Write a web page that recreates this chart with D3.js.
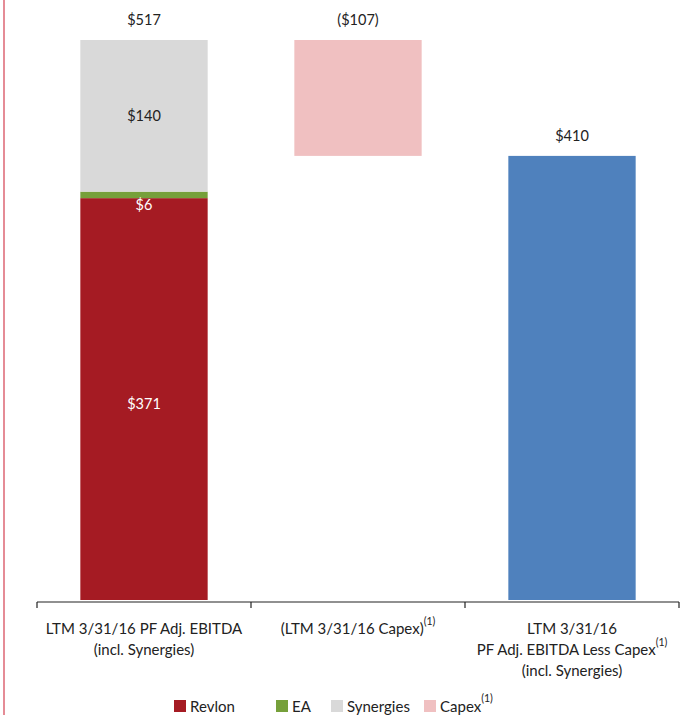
<!DOCTYPE html>
<html><head><meta charset="utf-8">
<script src="https://cdn.jsdelivr.net/npm/d3@7"></script>
<style>body{margin:0;background:#fff}svg{display:block;font-family:Lato,"Open Sans",sans-serif}</style>
</head><body><svg id="c" width="682" height="715"></svg>
<script>
const categories = ["ebitda", "capex", "less"];
const categoryLines = [
  [["LTM 3/31/16 PF Adj. EBITDA", ""], ["(incl. Synergies)", ""]],
  [["(LTM 3/31/16 Capex)", "(1)"]],
  [["LTM 3/31/16", ""], ["PF Adj. EBITDA Less Capex", "(1)"], ["(incl. Synergies)", ""]]
];
const revlon = [371, 0, 0];
const ea = [6, 0, 0];
const synergies = [140, 0, 0];
const capexFloat = [0, 410, 0];
const capex = [0, 107, 0];
const total = [0, 0, 410];
const totalLabels = ["$517", "($107)", "$410"];
const segLabels = ["$371", "$6", "$140"];
const legendNames = ["Revlon", "EA", "Synergies", "Capex"];
const legendSup = ["", "", "", "(1)"];
const colors = {revlon:"#a51b23", ea:"#76a03a", syn:"#d9d9d9", capex:"#f0c0c1", total:"#4f81bd"};

const svg = d3.select("#c");
svg.append("line").attr("x1",4).attr("x2",4).attr("y1",0).attr("y2",715)
  .attr("stroke","#e58c96").attr("stroke-width",2);

const x = d3.scaleBand().domain(categories).range([37, 679]).padding(0);
const y = d3.scaleLinear().domain([0, 517]).range([600, 40]);
const bw = x.bandwidth() * 0.595;
const bx = c => x(c) + (x.bandwidth() - bw) / 2;

const stacks = [
  {vals: revlon, base: categories.map(() => 0), color: colors.revlon},
  {vals: ea, base: revlon, color: colors.ea},
  {vals: synergies, base: revlon.map((v,i)=>v+ea[i]), color: colors.syn},
  {vals: capex, base: capexFloat, color: colors.capex},
  {vals: total, base: categories.map(() => 0), color: colors.total}
];
stacks.forEach(s => {
  svg.append("g").selectAll("rect").data(categories.map((c,i)=>({c, v:s.vals[i], b:s.base[i]})).filter(d=>d.v>0))
    .join("rect")
    .attr("x", d => bx(d.c)).attr("width", bw)
    .attr("y", d => y(d.b + d.v)).attr("height", d => y(d.b) - y(d.b + d.v))
    .attr("fill", s.color);
});

const tops = categories.map((c,i)=> revlon[i]+ea[i]+synergies[i]+capex[i]+capexFloat[i]+total[i]);
svg.append("g").selectAll("text").data(categories).join("text")
  .attr("x", c => x(c) + x.bandwidth()/2).attr("y", (c,i) => y(tops[i]) - 15)
  .attr("text-anchor","middle").attr("font-size",14.5).attr("fill","#222")
  .text((c,i)=>totalLabels[i]);

const segVals = [revlon[0], ea[0], synergies[0]];
const segBase = [0, revlon[0], revlon[0]+ea[0]];
const segFill = ["#fff", "#fff", "#222"];
const segOffset = [5, 10, 0];
segVals.forEach((v,i)=>{
  svg.append("text").attr("x", x(categories[0]) + x.bandwidth()/2)
    .attr("y", y(segBase[i] + v/2) + 5 + segOffset[i])
    .attr("text-anchor","middle").attr("font-size",14.5).attr("fill",segFill[i])
    .text(segLabels[i]);
});

const ax = svg.append("g").attr("transform","translate(0,602)");
ax.append("line").attr("x1",37).attr("x2",679).attr("stroke","#222").attr("stroke-width",1.2);
const bounds = categories.map(c=>x(c)).concat([x.range()[1]]);
ax.selectAll(".tk").data(bounds).join("line").attr("class","tk")
  .attr("x1",d=>d).attr("x2",d=>d).attr("y1",0).attr("y2",6).attr("stroke","#222").attr("stroke-width",1.2);

categoryLines.forEach((lines, ci)=>{
  const cx = x(categories[ci]) + x.bandwidth()/2;
  lines.forEach((ln, li)=>{
    const t = svg.append("text").attr("x", cx).attr("y", 634 + li*21)
      .attr("text-anchor","middle").attr("font-size",15).attr("fill","#222");
    t.append("tspan").text(ln[0]);
    if (ln[1]) t.append("tspan").attr("dy",-9).attr("font-size",10.5).text(ln[1]);
  });
});

const legX = [174, 276, 331, 424];
legendNames.forEach((n,i)=>{
  const g = svg.append("g").attr("transform",`translate(${legX[i]},700)`);
  g.append("rect").attr("width",12).attr("height",12)
    .attr("fill",[colors.revlon, colors.ea, colors.syn, colors.capex][i]);
  const t = g.append("text").attr("x",16).attr("y",12).attr("font-size",15).attr("fill","#222");
  t.append("tspan").text(n);
  if (legendSup[i]) t.append("tspan").attr("dy",-10).attr("font-size",10.5).text(legendSup[i]);
});
</script></body></html>
